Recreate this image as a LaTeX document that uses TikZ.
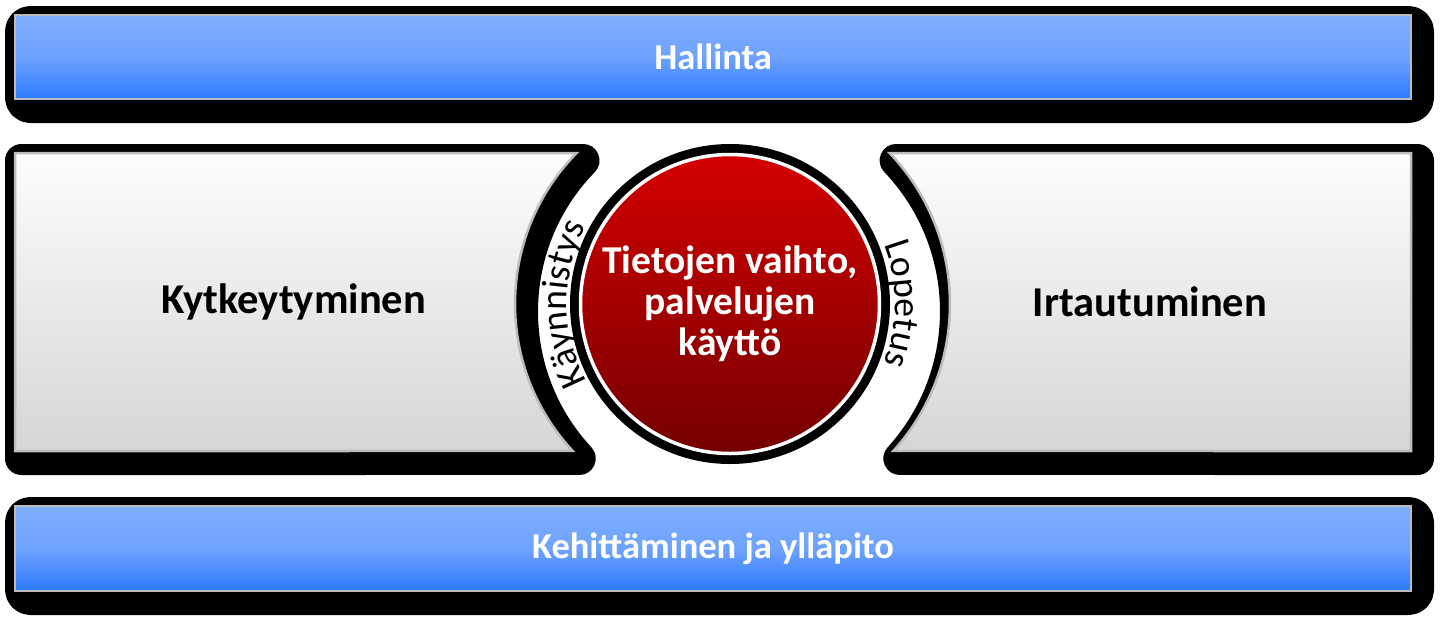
\documentclass[tikz,border=0pt]{standalone}
\usepackage{fontspec}
\setmainfont{Carlito}
\usetikzlibrary{decorations.text}
\definecolor{bluetop}{RGB}{128,174,255}
\definecolor{bluemid}{RGB}{110,162,255}
\definecolor{bluebot}{RGB}{44,122,255}
\definecolor{graytop}{RGB}{253,253,253}
\definecolor{graybot}{RGB}{214,214,214}
\definecolor{edgegray}{RGB}{188,188,188}
\definecolor{redtop}{RGB}{212,0,0}
\definecolor{redbot}{RGB}{116,0,0}
\newcommand\arcfont{\fontsize{37.5}{37.5}\selectfont}
\newcommand\leftboxpath{(15,-153) -- (576.55,-153) arc[start angle=135.65, end angle=222.89, radius=216] -- (15,-451) -- cycle}
\newcommand\rightboxpath{(1411,-153) -- (889.61,-153) arc[start angle=43.59, end angle=-42.16, radius=219] -- (1411,-451) -- cycle}
\begin{document}
\begin{tikzpicture}[x=1pt,y=1pt,
  shadowfx/.style={fill=black, draw=black, line width=33pt, line join=round, shift={(6.5,-7.5)}},
  bar/.style={rectangle, draw=edgegray, line width=2.5pt, top color=bluetop, bottom color=bluebot, middle color=bluemid,
    minimum width=1396pt, inner sep=0pt, text=white, font=\bfseries\fontsize{36.5}{36.5}\selectfont},
  boxfill/.style={top color=graytop, bottom color=graybot},
  boxedge/.style={draw=edgegray, line width=2.5pt},
  bigtext/.style={text=black, font=\bfseries\fontsize{42.5}{42.5}\selectfont, inner sep=0pt},
  arctext/.style={decorate, decoration={text along path, text align=center, text={|\arcfont|#1}}}
]
\useasboundingbox (0,0) rectangle (1441,-622);
% shadows
\path[shadowfx, rounded corners=9pt] (15,-15) rectangle (1411,-99);
\path[shadowfx, rounded corners=9pt] (15,-506) rectangle (1411,-591);
\path[shadowfx] \leftboxpath;
\path[shadowfx] \rightboxpath;
% bars
\node[bar, minimum height=84pt] (hallinta) at (713,-57) {Hallinta};
\node[bar, minimum height=85pt] (kehitys) at (713,-548.5) {Kehittäminen ja ylläpito};
% side boxes
\path[boxfill] \leftboxpath;
\path[boxedge] \leftboxpath;
\path[boxfill] \rightboxpath;
\path[boxedge] \rightboxpath;
\node[bigtext] (kyt) at (294,-302) {Kytkeytyminen};
\node[bigtext] (irt) at (1150,-302) {Irtautuminen};
% central circle
\node[circle, fill=black, minimum size=320pt, inner sep=0pt] (ring) at (730,-304) {};
\node[circle, draw=white, line width=3.5pt, top color=redtop, bottom color=redbot, minimum size=299pt, inner sep=0pt,
  text=white, align=center, font=\bfseries\fontsize{39.5}{41}\selectfont] (core) at (730,-304) {Tietojen vaihto,\\palvelujen\\käyttö};
% arc labels
\path[arctext={Käynnistys}] (588.97,-386) arc[start angle=210, end angle=150, radius=164];
\path[arctext={Lopetus}] (873.03,-222) arc[start angle=30, end angle=-30, radius=164];
\end{tikzpicture}
\end{document}
